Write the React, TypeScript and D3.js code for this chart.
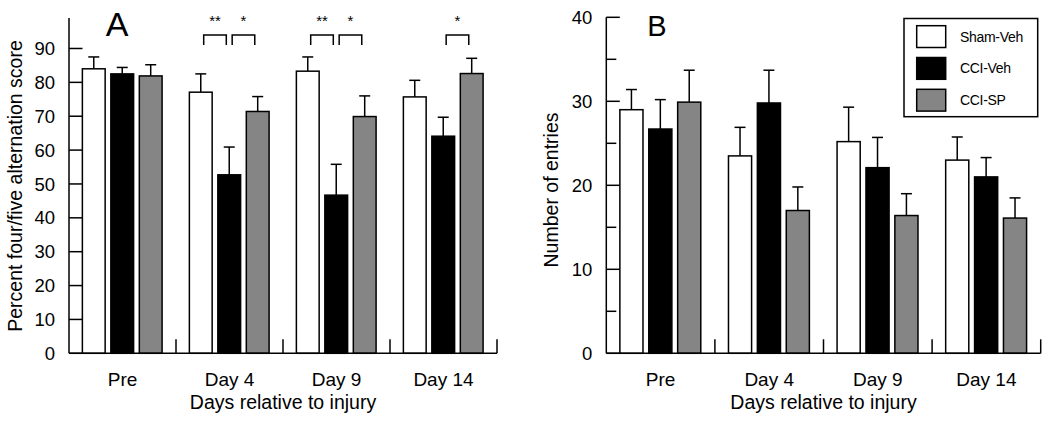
import * as d3 from "d3";
import React from "react";

const categories = ["Pre", "Day 4", "Day 9", "Day 14"];
const groups = ["Sham-Veh", "CCI-Veh", "CCI-SP"];
const groupFill = ["#ffffff", "#000000", "#858585"];

// Panel A: percent four/five alternation score (mean, SEM)
const altSham = [84.0, 77.1, 83.3, 75.7];
const altShamSem = [3.5, 5.4, 4.2, 4.9];
const altCciVeh = [82.5, 52.7, 46.7, 64.1];
const altCciVehSem = [1.9, 8.2, 9.1, 5.6];
const altCciSp = [81.9, 71.4, 69.9, 82.6];
const altCciSpSem = [3.3, 4.4, 6.1, 4.5];

// Panel B: number of entries (mean, SEM)
const entSham = [29.0, 23.5, 25.2, 23.0];
const entShamSem = [2.4, 3.4, 4.1, 2.75];
const entCciVeh = [26.7, 29.8, 22.1, 21.0];
const entCciVehSem = [3.5, 3.9, 3.6, 2.3];
const entCciSp = [29.9, 17.0, 16.4, 16.1];
const entCciSpSem = [3.8, 2.8, 2.6, 2.4];

const altTicks = [0, 10, 20, 30, 40, 50, 60, 70, 80, 90];
const entTicks = [0, 10, 20, 30, 40];
const entMinorTicks = [5, 15, 25, 35];

// significance brackets in panel A: category, left group, right group, stars
const sigCats = ["Day 4", "Day 4", "Day 9", "Day 9", "Day 14"];
const sigFrom = [0, 1, 0, 1, 1];
const sigTo = [1, 2, 1, 2, 2];
const sigLabels = ["**", "*", "**", "*", "*"];

const FONT = "'Liberation Sans', Arial, Helvetica, sans-serif";

type PanelProps = {
  left: number;
  right: number;
  y: d3.ScaleLinear<number, number>;
  ticks: number[];
  minor?: number[];
  means: number[][];
  sems: number[][];
  letter: string;
  letterX: number;
  letterSize: number;
  yLabel: string;
  yLabelX: number;
  yLabelY: number;
  children?: (x: d3.ScaleBand<string>, inner: d3.ScaleBand<string>) => React.ReactNode;
};

const Panel = (p: PanelProps) => {
  const x = d3.scaleBand().domain(categories).range([p.left, p.right]);
  const w = x.bandwidth();
  const inner = d3.scaleBand().domain(groups).range([0.125 * w, 0.87 * w]).paddingInner(0.2);
  const y0 = p.y(0);
  const yTop = p.y.range()[1];
  const cap = 5.5;

  return (
    <g>
      {/* bars with upper SEM whiskers */}
      {categories.map((c, ci) =>
        groups.map((g, gi) => {
          const bx = (x(c) as number) + (inner(g) as number);
          const v = p.means[gi][ci];
          const e = v + p.sems[gi][ci];
          const cx = bx + inner.bandwidth() / 2;
          return (
            <g key={c + g}>
              <line x1={cx} x2={cx} y1={p.y(v)} y2={p.y(e)} stroke="#000" strokeWidth={1.5} />
              <line x1={cx - cap} x2={cx + cap} y1={p.y(e)} y2={p.y(e)} stroke="#000" strokeWidth={1.5} />
              <rect x={bx} y={p.y(v)} width={inner.bandwidth()} height={y0 - p.y(v)}
                fill={groupFill[gi]} stroke="#000" strokeWidth={1.5} />
            </g>
          );
        })
      )}

      {/* y axis, ticks point inward */}
      <line x1={p.left} x2={p.left} y1={y0} y2={yTop} stroke="#000" strokeWidth={1.5} />
      {p.ticks.map((t) => (
        <g key={"t" + t}>
          <line x1={p.left} x2={p.left + 13.5} y1={p.y(t)} y2={p.y(t)} stroke="#000" strokeWidth={1.5} />
          <text x={p.left - 14} y={p.y(t)} dy="0.36em" textAnchor="end" fontSize={18.5} fontFamily={FONT}>{t}</text>
        </g>
      ))}
      {(p.minor || []).map((t) => (
        <line key={"m" + t} x1={p.left} x2={p.left + 10} y1={p.y(t)} y2={p.y(t)} stroke="#000" strokeWidth={1.5} />
      ))}

      {/* x axis */}
      <line x1={p.left} x2={p.right} y1={y0} y2={y0} stroke="#000" strokeWidth={1.5} />
      {categories.map((c) => (
        <g key={"x" + c}>
          <line x1={(x(c) as number) + w} x2={(x(c) as number) + w} y1={y0} y2={y0 - 14} stroke="#000" strokeWidth={1.5} />
          <text x={(x(c) as number) + w / 2} y={386} textAnchor="middle" fontSize={19} fontFamily={FONT}>{c}</text>
        </g>
      ))}
      <text x={(p.left + p.right) / 2} y={409} textAnchor="middle" fontSize={19.5} fontFamily={FONT}>Days relative to injury</text>

      <text transform={`translate(${p.yLabelX},${p.yLabelY}) rotate(-90)`} textAnchor="middle" dy="0.35em"
        fontSize={19.5} fontFamily={FONT}>{p.yLabel}</text>

      <text x={p.letterX} y={36} textAnchor="middle" fontSize={p.letterSize} fontFamily={FONT}>{p.letter}</text>

      {p.children ? p.children(x, inner) : null}
    </g>
  );
};

export default function App() {
  const yA = d3.scaleLinear().domain([0, 99]).range([353.3, 18]);
  const yB = d3.scaleLinear().domain([0, 40]).range([353.3, 17.3]);

  return (
    <svg width={1050} height={426} style={{ position: "absolute", left: 0, top: 0, background: "#fff" }}>
      <rect width={1050} height={426} fill="#fff" />
      <Panel left={69} right={497} y={yA} ticks={altTicks}
        means={[altSham, altCciVeh, altCciSp]} sems={[altShamSem, altCciVehSem, altCciSpSem]}
        letter="A" letterX={117} letterSize={34}
        yLabel="Percent four/five alternation score" yLabelX={15} yLabelY={186}>
        {(x, inner) =>
          sigCats.map((c, i) => {
            const cA = (x(c) as number) + (inner(groups[sigFrom[i]]) as number) + inner.bandwidth() / 2;
            const cB = (x(c) as number) + (inner(groups[sigTo[i]]) as number) + inner.bandwidth() / 2;
            const mid = (cA + cB) / 2;
            const half = 11.3;
            const top = yA(94);
            const leg = yA(91);
            return (
              <g key={"s" + i}>
                <path d={`M${mid - half},${leg}V${top}H${mid + half}V${leg}`} fill="none" stroke="#000" strokeWidth={1.5} />
                <text x={mid} y={25.5} textAnchor="middle" fontSize={15} fontFamily={FONT}>{sigLabels[i]}</text>
              </g>
            );
          })
        }
      </Panel>
      <Panel left={606.3} right={1040.7} y={yB} ticks={entTicks} minor={entMinorTicks}
        means={[entSham, entCciVeh, entCciSp]} sems={[entShamSem, entCciVehSem, entCciSpSem]}
        letter="B" letterX={657} letterSize={29}
        yLabel="Number of entries" yLabelX={551} yLabelY={190}>
        {() => (
          <g>
            <rect x={904} y={18.5} width={133.7} height={98.2} fill="#fff" stroke="#000" strokeWidth={1.5} />
            {groups.map((g, i) => (
              <g key={"l" + g}>
                <rect x={916.7} y={25.7 + i * 31.8} width={29} height={21.8} fill={groupFill[i]} stroke="#000" strokeWidth={1.5} />
                <text x={960} y={36.6 + i * 31.8} dy="0.35em" fontSize={14} fontFamily={FONT} letterSpacing={-0.3}>{g}</text>
              </g>
            ))}
          </g>
        )}
      </Panel>
    </svg>
  );
}
